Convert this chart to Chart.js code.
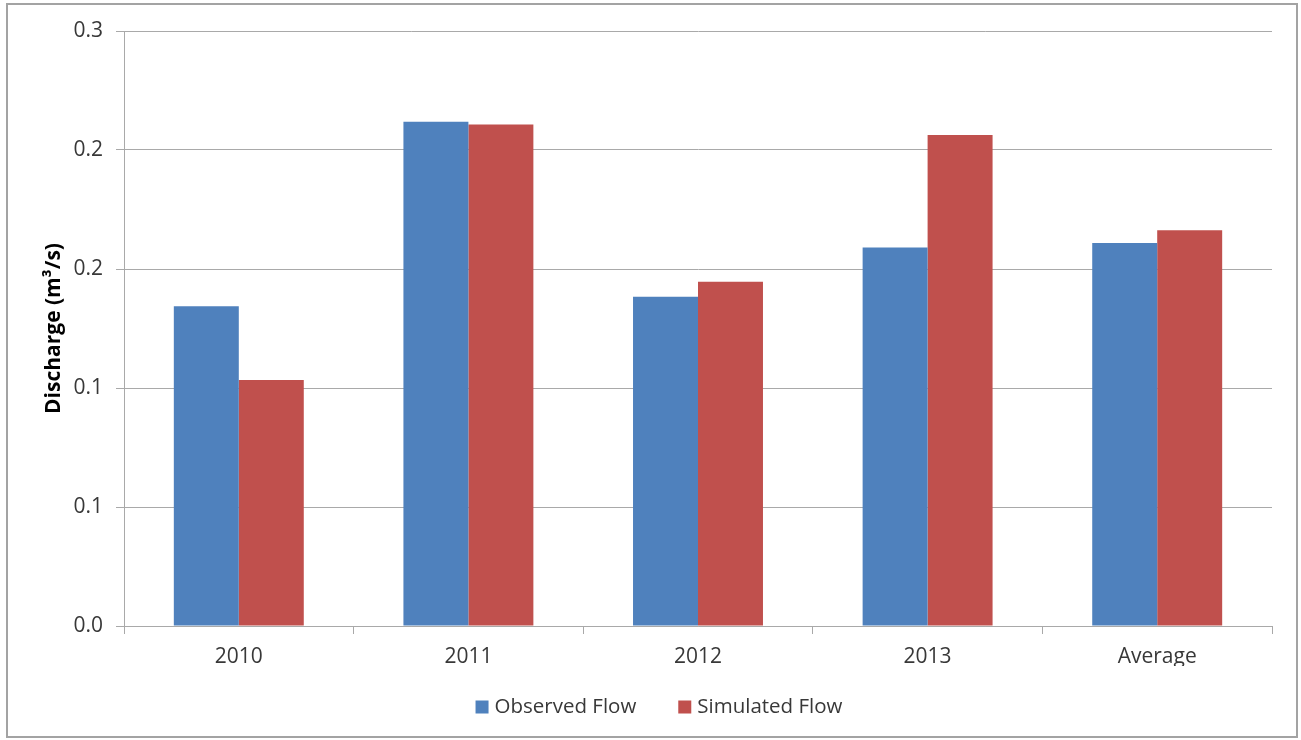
<!DOCTYPE html>
<html>
<head>
<meta charset="utf-8">
<script src="https://cdn.jsdelivr.net/npm/chart.js@4/dist/chart.umd.min.js"></script>
<style>
  html, body { margin: 0; padding: 0; background: #ffffff; }
  #frame {
    position: absolute; left: 6px; top: 3px; width: 1292px; height: 735px;
    border: 2px solid #a3a3a3; box-sizing: border-box; background: #fff;
  }
  #chart { display: block; }
</style>
</head>
<body>
<div id="frame"><canvas id="chart" width="1288" height="731"></canvas></div>
<script>
// Annual discharge, observed vs simulated (m³/s)
const categories = ['2010', '2011', '2012', '2013', 'Average'];
const observedFlow = [0.1612, 0.2543, 0.1660, 0.1909, 0.1931];
const simulatedFlow = [0.1240, 0.2528, 0.1736, 0.2476, 0.1995];
const yTicks = [0, 0.06, 0.12, 0.18, 0.24, 0.30];

const FONT = 'Open Sans';
const GRID = '#a9a9a9';
const TEXT = '#383838';

// Bottom legend drawn under the plot
const bottomLegend = {
  id: 'bottomLegend',
  afterDraw(chart) {
    const ctx = chart.ctx;
    ctx.save();
    ctx.font = '20.5px "' + FONT + '"';
    const box = 13, gapText = 6, gapItem = 42;
    const items = chart.data.datasets.map(ds => ({
      label: ds.label, color: ds.backgroundColor, w: ctx.measureText(ds.label).width
    }));
    let total = 0;
    items.forEach((it, i) => { total += box + gapText + it.w + (i ? gapItem : 0); });
    let x = 651 - total / 2;
    const cy = 702;
    items.forEach((it, i) => {
      if (i) x += gapItem;
      ctx.fillStyle = it.color;
      ctx.fillRect(x, cy - box / 2, box, box);
      x += box + gapText;
      ctx.fillStyle = TEXT;
      ctx.textBaseline = 'middle';
      ctx.textAlign = 'left';
      ctx.fillText(it.label, x, cy);
      x += it.w;
    });
    ctx.restore();
  }
};

new Chart(document.getElementById('chart'), {
  type: 'bar',
  data: {
    labels: categories,
    datasets: [
      { label: 'Observed Flow', data: observedFlow, backgroundColor: '#4f81bd' },
      { label: 'Simulated Flow', data: simulatedFlow, backgroundColor: '#c0504d' }
    ]
  },
  options: {
    responsive: false,
    animation: false,
    devicePixelRatio: 1,
    layout: { padding: { top: 26, right: 24, bottom: 70, left: 0 } },
    datasets: { bar: { categoryPercentage: 0.566, barPercentage: 1.0 } },
    plugins: {
      legend: { display: false },
      tooltip: { enabled: false }
    },
    scales: {
      x: {
        afterFit(scale) { scale.height = 40; },
        grid: { offset: true, drawOnChartArea: false, drawTicks: true, tickLength: 8, color: GRID },
        border: { color: GRID },
        ticks: { color: TEXT, font: { family: FONT, size: 21 }, padding: 10 }
      },
      y: {
        min: 0, max: 0.3,
        afterFit(scale) { scale.width = 116; },
        afterBuildTicks(scale) { scale.ticks = yTicks.map(v => ({ value: v })); },
        grid: { color: GRID, tickLength: 8 },
        border: { color: GRID },
        ticks: {
          color: TEXT, font: { family: FONT, size: 21 }, padding: 13,
          callback: v => Number(v).toFixed(1)
        },
        title: {
          display: true, text: 'Discharge (m³/s)', color: '#000000',
          font: { family: FONT, size: 21, weight: 'bold' },
          padding: { top: 33, bottom: 0 }
        }
      }
    }
  },
  plugins: [bottomLegend]
});
</script>
</body>
</html>
